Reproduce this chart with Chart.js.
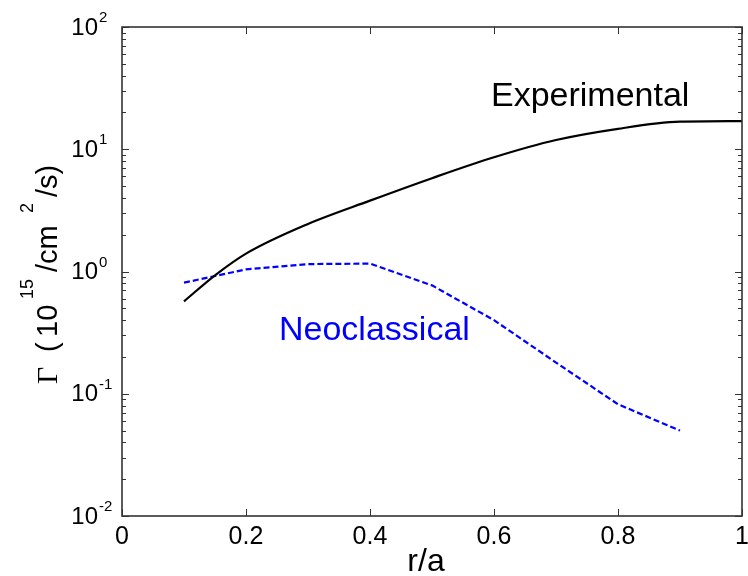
<!DOCTYPE html>
<html>
<head>
<meta charset="utf-8">
<script src="https://cdn.jsdelivr.net/npm/chart.js@4/dist/chart.umd.min.js"></script>
<style>
html,body{margin:0;padding:0;background:#fff;}
#wrap{width:748px;height:576px;}
</style>
</head>
<body>
<div id="wrap"><canvas id="c" width="748" height="576"></canvas></div>
<script>
// ---- data ----
const expX = [0.1, 0.15, 0.2, 0.3, 0.4, 0.5, 0.6, 0.7, 0.8, 0.9, 1.0];
const expY = [0.57, 0.93, 1.4, 2.45, 3.8, 5.8, 8.6, 11.9, 14.7, 16.8, 17.0];
const neoX = [0.1, 0.2, 0.3, 0.4, 0.5, 0.6, 0.7, 0.8, 0.9];
const neoY = [0.81, 1.04, 1.15, 1.16, 0.77, 0.40, 0.18, 0.082, 0.05];
const xTicks = [0, 0.2, 0.4, 0.6, 0.8, 1];
const xTickLabels = ['0', '0.2', '0.4', '0.6', '0.8', '1'];
const yDecades = [0.01, 0.1, 1, 10, 100];
const yExponents = ['-2', '-1', '0', '1', '2'];
const labelExp = 'Experimental';
const labelNeo = 'Neoclassical';

const SANS = '"Liberation Sans", Arial, sans-serif';
const SERIF = '"Liberation Serif", "Times New Roman", serif';

const decor = {
  id: 'decor',
  afterDraw(chart) {
    const ctx = chart.ctx;
    const ca = chart.chartArea;
    const xs = chart.scales.x, ys = chart.scales.y;
    ctx.save();
    // box
    ctx.strokeStyle = '#333';
    ctx.lineWidth = 1.6;
    ctx.strokeRect(ca.left, ca.top, ca.right - ca.left, ca.bottom - ca.top);
    // x ticks (inward, bottom & top)
    ctx.lineWidth = 1;
    ctx.beginPath();
    xTicks.forEach(v => {
      const px = Math.round(xs.getPixelForValue(v)) + 0.5;
      ctx.moveTo(px, ca.bottom); ctx.lineTo(px, ca.bottom - 7);
      ctx.moveTo(px, ca.top); ctx.lineTo(px, ca.top + 7);
    });
    // y ticks major + minor
    for (let d = 0; d < yDecades.length; d++) {
      const base = yDecades[d];
      const py = Math.round(ys.getPixelForValue(base)) + 0.5;
      ctx.moveTo(ca.left, py); ctx.lineTo(ca.left + 7, py);
      ctx.moveTo(ca.right, py); ctx.lineTo(ca.right - 7, py);
      if (d < yDecades.length - 1) {
        for (let m = 2; m <= 9; m++) {
          const pm = Math.round(ys.getPixelForValue(base * m)) + 0.5;
          ctx.moveTo(ca.left, pm); ctx.lineTo(ca.left + 4, pm);
          ctx.moveTo(ca.right, pm); ctx.lineTo(ca.right - 4, pm);
        }
      }
    }
    ctx.stroke();

    // x tick labels
    ctx.fillStyle = '#000';
    ctx.font = '25px ' + SANS;
    ctx.textAlign = 'center';
    ctx.textBaseline = 'middle';
    xTicks.forEach((v, i) => {
      ctx.fillText(xTickLabels[i], xs.getPixelForValue(v), 537);
    });
    // y tick labels 10^n
    yDecades.forEach((v, i) => {
      const py = ys.getPixelForValue(v);
      ctx.font = '24px ' + SANS;
      ctx.textAlign = 'right';
      ctx.textBaseline = 'middle';
      ctx.fillText('10', 98, py + 1);
      ctx.font = '15px ' + SANS;
      ctx.textAlign = 'left';
      ctx.textBaseline = 'alphabetic';
      ctx.fillText(yExponents[i], 99, py - 5);
    });

    // x axis title
    ctx.font = '32px ' + SANS;
    ctx.textAlign = 'center';
    ctx.textBaseline = 'alphabetic';
    ctx.fillText('r/a', (ca.left + ca.right) / 2 - 6, 571);

    // y axis title (rotated)
    ctx.save();
    ctx.translate(57, 0);
    ctx.rotate(-Math.PI / 2);
    ctx.textAlign = 'left';
    ctx.textBaseline = 'alphabetic';
    const pieces = [
      {t: '\u0393', font: '30px ' + SERIF, start: 384, base: 0},
      {t: '(', font: '29px ' + SANS, start: 352, base: 0},
      {t: '10', font: '29px ' + SANS, start: 337, base: 0},
      {t: '15', font: '18px ' + SANS, start: 299, base: -24},
      {t: '/cm', font: '29px ' + SANS, start: 272, base: 0},
      {t: '2', font: '18px ' + SANS, start: 213, base: -24},
      {t: '/s)', font: '29px ' + SANS, start: 197, base: 0}
    ];
    pieces.forEach(p => {
      ctx.font = p.font;
      ctx.fillText(p.t, -p.start, p.base);
    });
    ctx.restore();

    // annotations
    ctx.font = '34px ' + SANS;
    ctx.textAlign = 'left';
    ctx.textBaseline = 'alphabetic';
    ctx.fillStyle = '#000';
    ctx.fillText(labelExp, 491, 106);
    ctx.fillStyle = '#0000ff';
    ctx.fillText(labelNeo, 279, 340);
    ctx.restore();
  }
};

new Chart(document.getElementById('c'), {
  type: 'line',
  data: {
    datasets: [
      {
        label: labelExp,
        data: expX.map((x, i) => ({x: x, y: expY[i]})),
        borderColor: '#000',
        borderWidth: 2.2,
        pointRadius: 0,
        cubicInterpolationMode: 'monotone',
        fill: false
      },
      {
        label: labelNeo,
        data: neoX.map((x, i) => ({x: x, y: neoY[i]})),
        borderColor: '#0000ff',
        borderWidth: 2.2,
        borderDash: [6, 3],
        pointRadius: 0,
        tension: 0,
        fill: false
      }
    ]
  },
  options: {
    responsive: false,
    animation: false,
    devicePixelRatio: 1,
    layout: {padding: {left: 0, top: 27, right: 6, bottom: 0}},
    plugins: {legend: {display: false}, tooltip: {enabled: false}},
    scales: {
      x: {
        type: 'linear', min: 0, max: 1,
        grid: {display: false}, border: {display: false},
        ticks: {display: false},
        afterFit: s => { s.height = 60; }
      },
      y: {
        type: 'logarithmic', min: 0.01, max: 100,
        grid: {display: false}, border: {display: false},
        ticks: {display: false},
        afterFit: s => { s.width = 122; }
      }
    }
  },
  plugins: [decor]
});
</script>
</body>
</html>
